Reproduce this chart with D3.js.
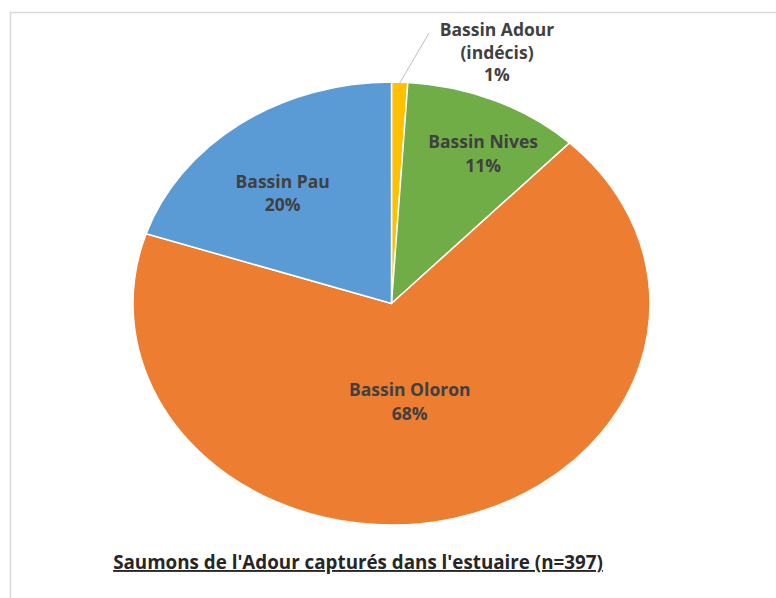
<!DOCTYPE html>
<html>
<head>
<meta charset="utf-8">
<script src="https://cdn.jsdelivr.net/npm/d3@7"></script>
<style>
  body { margin: 0; background: #fff; }
  text { font-family: "Open Sans", Lato, sans-serif; font-weight: bold; }
</style>
</head>
<body>
<div id="chart"></div>
<script>
// salmon counts by basin (n=397)
var bassins = ["Bassin Adour", "Bassin Nives", "Bassin Oloron", "Bassin Pau"];
var effectifs = [4, 44, 270, 79];
var pourcents = ["1%", "11%", "68%", "20%"];
var couleurs = ["#FFC000", "#70AD47", "#ED7D31", "#5B9BD5"];
var titre = "Saumons de l'Adour capturés dans l'estuaire (n=397)";

var width = 776, height = 598;
var cx = 391.5, cy = 303.5, rx = 258.5, ry = 221.5;

var svg = d3.select("#chart")
    .append("svg")
    .attr("width", width)
    .attr("height", height);

// chart frame
svg.append("path")
    .attr("d", "M10.5," + height + "V12.5H" + width)
    .attr("fill", "none")
    .attr("stroke", "#d9d9d9")
    .attr("stroke-width", 1.5);

var pie = d3.pie().sort(null).value(function(d) { return d; });
var arcs = pie(effectifs);
var arc = d3.arc().innerRadius(0).outerRadius(rx);

var g = svg.append("g")
    .attr("transform", "translate(" + cx + "," + cy + ") scale(1," + (ry / rx) + ")");

g.selectAll("path")
    .data(arcs)
    .enter()
    .append("path")
    .attr("d", arc)
    .attr("fill", function(d, i) { return couleurs[i]; })
    .attr("stroke", "#fff")
    .attr("stroke-width", 1.5)
    .attr("vector-effect", "non-scaling-stroke");

// inside labels (not the tiny Adour slice), placed like Excel's
var labelRadius = [0, 0.77, 0.45, 0.66];
var nudge = [[0, 0], [12, 6], [-10, 1], [-9, 8]];
var inside = arcs.map(function(d, i) { return {a: d, i: i}; }).filter(function(d) { return d.i > 0; });

var labels = svg.selectAll("g.lbl")
    .data(inside)
    .enter()
    .append("g")
    .attr("class", "lbl")
    .attr("transform", function(d) {
      var r = labelRadius[d.i], m = (d.a.startAngle + d.a.endAngle) / 2;
      var x = cx + r * rx * Math.sin(m) + nudge[d.i][0];
      var y = cy - r * ry * Math.cos(m) + nudge[d.i][1];
      return "translate(" + x + "," + y + ")";
    });

labels.append("text")
    .attr("text-anchor", "middle")
    .attr("y", -5)
    .attr("fill", "#404040")
    .style("font-size", "17.5px")
    .text(function(d) { return bassins[d.i]; });

labels.append("text")
    .attr("text-anchor", "middle")
    .attr("y", 18.5)
    .attr("fill", "#404040")
    .style("font-size", "17.5px")
    .text(function(d) { return pourcents[d.i]; });

// outside label for Adour with leader line
var a0 = arcs[0];
var mid0 = (a0.startAngle + a0.endAngle) / 2;
svg.append("line")
    .attr("x1", cx + rx * Math.sin(mid0) * 0.995)
    .attr("y1", cy - ry * Math.cos(mid0) * 0.995)
    .attr("x2", 429)
    .attr("y2", 33)
    .attr("stroke", "#bfbfbf")
    .attr("stroke-width", 1);

var adour = svg.append("text")
    .attr("text-anchor", "middle")
    .attr("fill", "#404040")
    .style("font-size", "17.5px");
[bassins[0], "(indécis)", pourcents[0]].forEach(function(t, k) {
  adour.append("tspan")
      .attr("x", 497)
      .attr("y", 36 + k * 22.5)
      .text(t);
});

svg.append("text")
    .attr("x", 358)
    .attr("y", 569)
    .attr("text-anchor", "middle")
    .attr("fill", "#262626")
    .style("font-size", "18.8px")
    .style("text-decoration", "underline")
    .text(titre);
</script>
</body>
</html>
